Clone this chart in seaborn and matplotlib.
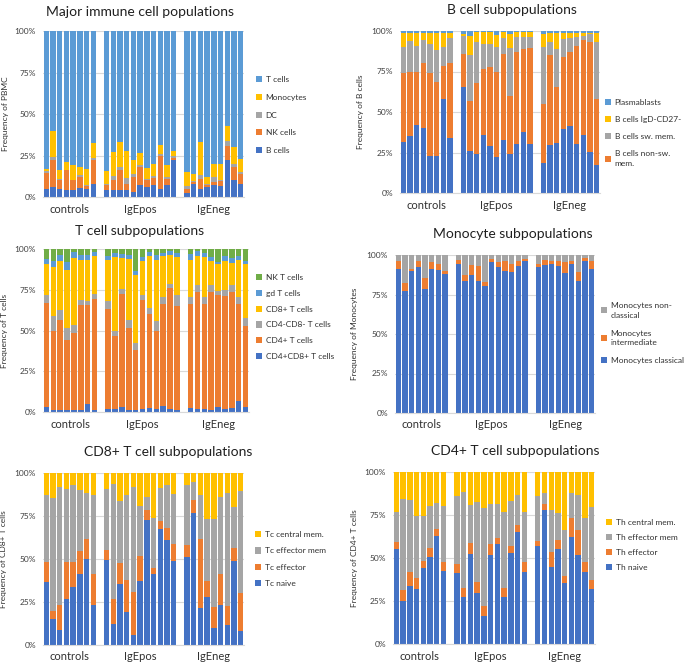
import numpy as np
import pandas as pd
import matplotlib
matplotlib.use("Agg")
import matplotlib.pyplot as plt
import seaborn as sns
from matplotlib.patches import Patch
from matplotlib.ticker import FuncFormatter

sns.set_theme(style="white")
plt.rcParams["font.family"] = ["Lato", "DejaVu Sans"]

groups = ["controls", "IgEpos", "IgEneg"]
group_sizes = [8, 11, 9]

# ---------------- Major immune cell populations (% of PBMC) ----------------
major_b = [5, 6, 5, 4.5, 4.5, 5.5, 5, 8,
           4.5, 4.5, 4, 4.5, 3, 7, 6, 7, 5, 7, 22,
           2.5, 8, 5, 6, 7, 6.5, 22, 10, 8]
major_nk = [9.5, 16, 5, 11.5, 5.5, 6.5, 1.5, 14.5,
            2.5, 6, 12, 3.5, 9, 11, 4, 4.5, 20, 4, 1.5,
            2.5, 1, 6, 1, 2, 3, 9, 8, 6]
major_dc = [1, 2, 1, 0.5, 0.5, 1, 1, 1,
            1, 2, 2, 3.5, 2, 1.5, 1, 1, 1, 1, 1.5,
            1.5, 0.5, 2, 1, 3, 1, 3, 2, 1]
major_mono = [1.5, 16, 5.5, 4.5, 9, 5, 9.5, 9,
              7.5, 14.5, 15, 16, 8.5, 7, 6.5, 7.5, 5.5, 7.5, 3,
              8.5, 4.5, 20, 4, 8, 9.5, 9, 10, 8]
major_t = [83, 60, 83.5, 79, 80.5, 82, 83, 67.5,
           84.5, 73, 67, 72.5, 77.5, 73.5, 82.5, 80, 68.5, 80.5, 72,
           85, 86, 67, 88, 80, 80, 57, 70, 77]

# ---------------- B cell subpopulations ----------------
b_naive = [31.5, 35, 42, 40, 23, 23, 58, 34,
           65.5, 26, 24, 36, 29, 22, 32.5, 24, 30.5, 37.5, 30,
           18.5, 29.5, 31, 39.5, 41.5, 30, 35.5, 25.5, 17]
b_nonsw = [42.5, 39.5, 32.5, 40.5, 51, 45.5, 20.5, 46.5,
           20, 31, 44, 40.5, 49, 52.5, 53.5, 36, 56.5, 51.5, 59.5,
           36.5, 55.5, 34.5, 44.5, 45.5, 60.5, 59, 67.5, 41]
b_sw = [16, 19.5, 16.5, 14, 18, 20, 11.5, 15,
        11.5, 28, 25, 15.5, 14, 15.5, 9.5, 29.5, 9.5, 7, 7,
        35, 8, 23.5, 11, 8.5, 5.5, 2.5, 5, 35.5]
b_dn = [9, 5, 8, 4.5, 7, 10.5, 9, 3.5,
        1, 12, 6.5, 7.5, 7.5, 7.5, 4, 8.5, 3, 3.5, 3,
        8, 5.5, 9.5, 3.5, 3, 2.5, 1.5, 1, 5]
b_plasma = [1, 1, 1, 1, 1, 1, 1, 1,
            2, 3, 0.5, 0.5, 0.5, 2.5, 0.5, 2, 0.5, 0.5, 0.5,
            2, 1.5, 1.5, 1.5, 1.5, 1.5, 1.5, 1, 1.5]

# ---------------- T cell subpopulations ----------------
t_dp = [3, 1, 1.5, 1, 1, 1.5, 5, 1.5,
        2, 2, 3, 1.5, 1, 2, 2.5, 2, 3.5, 2, 1.5,
        2.5, 2, 2, 1.5, 3, 2, 2.5, 7, 3]
t_cd4 = [64, 49, 55, 43, 47.5, 64, 60.5, 68,
         61, 44.5, 69.5, 50, 37, 67, 57.5, 48, 63, 74, 63.5,
         63.5, 71.5, 64, 72, 68.5, 69, 71, 59, 50]
t_dn = [4.5, 9, 6, 7.5, 5, 3, 2.5, 3,
        5, 3, 3, 5, 4.5, 3, 3.5, 6, 4, 2.5, 7,
        4.5, 4.5, 4.5, 4.5, 2.5, 4, 4.5, 4.5, 4.5]
t_cd8 = [19.5, 30, 30, 35.5, 41, 25, 25.5, 23,
         25, 45.5, 19, 37.5, 41.5, 20.5, 32, 37, 25, 18, 23,
         23, 17.5, 24.5, 14.5, 16.5, 17.5, 13.5, 22.5, 33]
t_gd = [3, 3.5, 4, 5, 3.5, 3, 3, 2.5,
        3, 2.5, 2.5, 2.5, 2.5, 2.5, 2.5, 3.5, 2, 2.5, 2.5,
        3.5, 3, 2.5, 2.5, 1.5, 3.5, 3, 2.5, 2]
t_nkt = [6, 7.5, 3.5, 8, 2, 3.5, 3.5, 2,
         4, 2.5, 3, 3.5, 13.5, 5, 2, 3.5, 2.5, 1, 2.5,
         3, 1.5, 2.5, 5, 8, 4, 5.5, 4.5, 7.5]

# ---------------- Monocyte subpopulations ----------------
mono_classical = [91, 77, 90, 92.5, 78.5, 91, 90.5, 88,
                  94.5, 83.5, 87.5, 83.5, 80.5, 95.5, 92.5, 90, 89, 93, 96,
                  92.5, 93.5, 94.5, 93, 88.5, 94.5, 83.5, 96, 91]
mono_intermediate = [5, 5.5, 1, 3.5, 7, 4.5, 4, 2,
                     2.5, 4, 6, 9.5, 2.5, 2, 3, 6.5, 5, 3, 1.5,
                     2, 3.5, 2, 3, 7, 2, 6, 2, 5]
mono_nonclassical = [4, 17.5, 9, 4, 14.5, 4.5, 5.5, 10,
                     3, 12.5, 6.5, 7, 17, 2.5, 4.5, 3.5, 6, 4, 2.5,
                     5.5, 3, 3.5, 4, 4.5, 3.5, 10.5, 2, 4]

# ---------------- CD8+ T cell subpopulations ----------------
cd8_naive = [36.5, 15, 8.5, 27, 34, 41, 50, 23.5,
             49.5, 12.5, 35.5, 19, 6, 37.5, 72.5, 41, 67.5, 61, 49,
             51, 76.5, 21.5, 28, 10, 23, 11.5, 49, 8]
cd8_eff = [11.5, 5, 14.5, 21.5, 14, 13.5, 11.5, 18,
           5.5, 14.5, 12, 19, 25, 14.5, 6, 3.5, 4.5, 7, 9.5,
           7, 8, 40, 9, 12, 18, 11, 7.5, 22.5]
cd8_effmem = [39, 65.5, 69, 42, 45, 35.5, 27, 46,
              35.5, 66.5, 36, 49, 61, 29, 7.5, 29.5, 19, 25, 29.5,
              35, 10, 25.5, 36.5, 51, 45, 66, 23.5, 59]
cd8_cm = [13, 14.5, 8, 9.5, 7, 10, 11.5, 12.5,
          9.5, 6.5, 16.5, 13, 8, 19, 14, 26, 9, 7, 12,
          7, 5.5, 13, 26.5, 27, 14, 11.5, 20, 10.5]

# ---------------- CD4+ T cell subpopulations ----------------
cd4_naive = [55.5, 25, 34, 32, 44, 50.5, 63, 42.5,
             41.5, 27.5, 52.5, 29.5, 16.5, 51.5, 58, 27.5, 53, 65, 42,
             57, 78, 45, 55.5, 35.5, 62, 52, 42, 32]
cd4_eff = [4, 6.5, 8, 6.5, 4, 5.5, 4, 5,
           5, 5, 6, 6.5, 5.5, 6.5, 3.5, 5, 4, 4, 5.5,
           3, 3.5, 8.5, 5, 4, 11, 14.5, 5.5, 5.5]
cd4_effmem = [17, 53, 41.5, 36, 26.5, 24.5, 15, 33,
              39.5, 56, 22.5, 46.5, 57, 23.5, 20, 44, 26, 17.5, 29,
              26, 6.5, 24.5, 15.5, 26.5, 15, 20, 25.5, 42]
cd4_cm = [23.5, 15.5, 16.5, 25.5, 25.5, 19.5, 18, 19.5,
          14, 11.5, 19, 17.5, 21, 18.5, 18.5, 23.5, 17, 13.5, 23.5,
          14, 12, 22, 24, 34, 12, 13.5, 27, 20.5]

DBLUE, ORANGE, GRAY, YELLOW, LBLUE, GREEN = "#4472C4", "#ED7D31", "#A5A5A5", "#FFC000", "#5B9BD5", "#70AD47"

W, H = 685, 663
fig = plt.figure(figsize=(W / 100, H / 100), dpi=100)
fig.patch.set_facecolor("white")


def px_axes(l, t, r, b):
    return fig.add_axes([l / W, 1 - b / H, (r - l) / W, (b - t) / H])


def sample_order():
    ids, order, centers = [], [], []
    pos = 0
    for gi, (g, n) in enumerate(zip(groups, group_sizes)):
        if gi > 0:
            order.append(f"gap{gi}")
            pos += 1
        start = pos
        for k in range(n):
            ids.append(f"{g}_{k + 1}")
            order.append(f"{g}_{k + 1}")
            pos += 1
        centers.append((start + pos - 1) / 2)
    return ids, order, centers


def panel(box, layers, names, colors, legend_labels, legend_idx, title, title_xy,
          ylabel, ylabel_x, legend_xy, labelspacing, linespacing=1.2):
    l, t, r, b = box
    ax = px_axes(l, t, r, b)
    ids, order, centers = sample_order()
    df = pd.DataFrame({"sample": ids})
    for nm, vals in zip(names, layers):
        df[nm] = vals
    cum = df[names].cumsum(axis=1)
    cum["sample"] = ids
    for nm, col in reversed(list(zip(names, colors))):
        sns.barplot(data=cum, x="sample", y=nm, order=order, color=col, width=0.8,
                    saturation=1, edgecolor="none", linewidth=0, errorbar=None, ax=ax)
    ax.set_xlim(-0.5, len(order) - 0.5)
    ax.set_ylim(0, 100)
    ax.set_yticks([0, 25, 50, 75, 100])
    ax.yaxis.set_major_formatter(FuncFormatter(lambda v, p: f"{int(v)}%"))
    ax.tick_params(axis="y", labelsize=6, length=0, pad=5, colors="#404040")
    ax.set_xticks([])
    ax.set_xlabel("")
    ax.set_ylabel("")
    ax.yaxis.grid(True, color="#D9D9D9", linewidth=0.8)
    ax.set_axisbelow(True)
    for s in ["top", "right", "left"]:
        ax.spines[s].set_visible(False)
    ax.spines["bottom"].set_color("#D9D9D9")
    ax.spines["bottom"].set_linewidth(0.8)
    ax.set_facecolor("white")
    for g, c in zip(groups, centers):
        ax.text(c, -12 / (b - t), g, transform=ax.get_xaxis_transform(),
                ha="center", va="center", fontsize=8, color="#303030")
    fig.text(title_xy[0] / W, 1 - title_xy[1] / H, title, ha="center", va="center",
             fontsize=10, color="#202020")
    fig.text(ylabel_x / W, 1 - ((t + b) / 2) / H, ylabel, rotation=90,
             ha="center", va="center", fontsize=6, color="#303030")
    handles = [Patch(facecolor=colors[i], edgecolor="none") for i in legend_idx]
    leg = fig.legend(handles, legend_labels, loc="center left",
                     bbox_to_anchor=(legend_xy[0] / W, 1 - legend_xy[1] / H),
                     bbox_transform=fig.transFigure, frameon=False, fontsize=6,
                     handlelength=0.75, handleheight=0.75, handletextpad=0.4,
                     labelspacing=labelspacing, borderpad=0, borderaxespad=0)
    for txt in leg.get_texts():
        txt.set_color("#303030")
        txt.set_linespacing(linespacing)
    return ax


panel((43, 31, 244, 197),
      [major_b, major_nk, major_dc, major_mono, major_t],
      ["B", "NK", "DC", "Mono", "T"],
      [DBLUE, ORANGE, GRAY, YELLOW, LBLUE],
      ["T cells", "Monocytes", "DC", "NK cells", "B cells"], [4, 3, 2, 1, 0],
      "Major immune cell populations", (140, 12),
      "Frequency of PBMC", 6, (256, 115), 1.3)

panel((400, 31, 600, 193),
      [b_naive, b_nonsw, b_sw, b_dn, b_plasma],
      ["naive", "nonsw", "sw", "dn", "plasma"],
      [DBLUE, ORANGE, GRAY, YELLOW, LBLUE],
      ["Plasmablasts", "B cells IgD-CD27-", "B cells sw. mem.", "B cells non-sw.\nmem."],
      [4, 3, 2, 1],
      "B cell subpopulations", (512, 10),
      "Frequency of B cells", 360, (605, 133), 1.2, 1.4)

panel((43, 249, 249, 412),
      [t_dp, t_cd4, t_dn, t_cd8, t_gd, t_nkt],
      ["dp", "cd4", "dn", "cd8", "gd", "nkt"],
      [DBLUE, ORANGE, GRAY, YELLOW, LBLUE, GREEN],
      ["NK T cells", "gd T cells", "CD8+ T cells", "CD4-CD8- T cells", "CD4+ T cells",
       "CD4+CD8+ T cells"], [5, 4, 3, 2, 1, 0],
      "T cell subpopulations", (140, 231),
      "Frequency of T cells", 5, (256, 317), 1.05)

panel((395, 255, 595, 413),
      [mono_classical, mono_intermediate, mono_nonclassical],
      ["classical", "intermediate", "nonclassical"],
      [DBLUE, ORANGE, GRAY],
      ["Monocytes non-\nclassical", "Monocytes\nintermediate", "Monocytes classical"],
      [2, 1, 0],
      "Monocyte subpopulations", (513, 234),
      "Frequency of Monocytes", 355, (601, 333), 1.3, 1.45)

panel((43, 473, 244, 645),
      [cd8_naive, cd8_eff, cd8_effmem, cd8_cm],
      ["naive", "eff", "effmem", "cm"],
      [DBLUE, ORANGE, GRAY, YELLOW],
      ["Tc central mem.", "Tc effector mem", "Tc effector", "Tc naive"], [3, 2, 1, 0],
      "CD8+ T cell subpopulations", (168, 452),
      "Frequency of CD8+ T cells", 4, (255, 559), 1.1)

panel((393, 472, 595, 644),
      [cd4_naive, cd4_eff, cd4_effmem, cd4_cm],
      ["naive", "eff", "effmem", "cm"],
      [DBLUE, ORANGE, GRAY, YELLOW],
      ["Th central mem.", "Th effector mem", "Th effector", "Th naive"], [3, 2, 1, 0],
      "CD4+ T cell subpopulations", (515, 451),
      "Frequency of CD4+ T cells", 354, (606, 545), 0.95)

fig.savefig("out.png", dpi=100, facecolor="white")
